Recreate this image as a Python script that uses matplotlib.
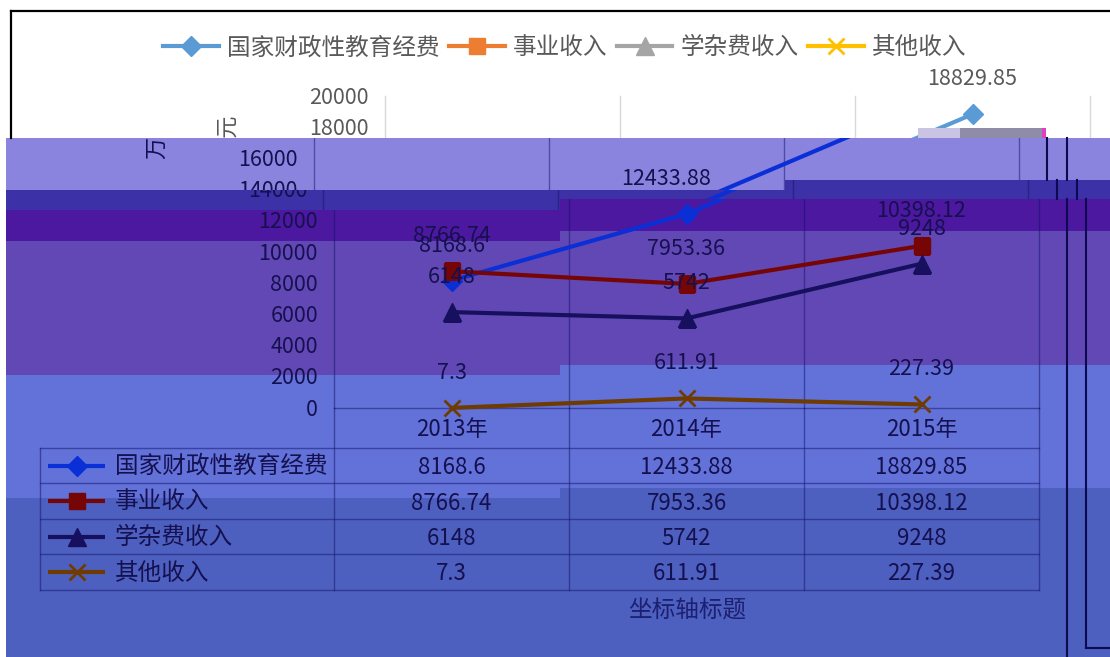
import numpy as np
import matplotlib
matplotlib.use('Agg')
import matplotlib.pyplot as plt
from matplotlib.patches import Polygon, Rectangle
from matplotlib.lines import Line2D
from matplotlib.text import Text
from matplotlib.transforms import ScaledTranslation, blended_transform_factory, Bbox, TransformedBbox

plt.rcParams['font.family'] = ['Noto Sans CJK SC', 'DejaVu Sans']

# ---------------- data ----------------
categories = ['2013年', '2014年', '2015年']
series_names = ['国家财政性教育经费', '事业收入', '学杂费收入', '其他收入']
fiscal_funds = [8168.6, 12433.88, 18829.85]
business_income = [8766.74, 7953.36, 10398.12]
tuition_income = [6148, 5742, 9248]
other_income = [7.3, 611.91, 227.39]
series_values = [fiscal_funds, business_income, tuition_income, other_income]
y_ticks = [0, 2000, 4000, 6000, 8000, 10000, 12000, 14000, 16000, 18000, 20000]
y_axis_title = '万元'
x_axis_title = '坐标轴标题'

# ---------------- styles ----------------
markers = ['D', 's', '^', 'x']
msizes = [10, 12, 12.5, 11]
orig_colors = ['#5b9bd5', '#ed7d31', '#a5a5a5', '#ffc000']
glitch_colors = ['#0a2fd6', '#760606', '#16105e', '#6e3c02']
schemes = {
    'orig': dict(colors=orig_colors, text='#595959', grid='#d9d9d9'),
    'glitch': dict(colors=glitch_colors, text='#15104f', grid=(0.08, 0.08, 0.42, 0.5)),
}

W, H, DPI = 1110, 657, 100
fig = plt.figure(figsize=(W / DPI, H / DPI), dpi=DPI)
fig.patch.set_facecolor('white')


def inch(p):
    return p / DPI


ax_bg = fig.add_axes([0, 0, 1, 1], zorder=-5)
ax_bg.set_xlim(0, W)
ax_bg.set_ylim(H, 0)
ax_bg.axis('off')

ax_fg = fig.add_axes([0, 0, 1, 1], zorder=10)
ax_fg.set_xlim(0, W)
ax_fg.set_ylim(H, 0)
ax_fg.axis('off')
ax_fg.patch.set_visible(False)

# band boundaries: (y on the left, y on the right, x of the step)
B_TOP = (0, 0, 560)
B_WHITE = (138, 138, 560)
B_12 = (190, 180, 785)
B_23 = (210, 199, 560)
B_34 = (241, 231, 560)
B_45 = (375, 365, 560)
B_56 = (498, 488, 560)
B_BOT = (H, H, 560)


def band_poly(top, bot, x0=0, x1=W):
    tl, tr, ts = top
    bl, br, bs = bot
    return [(x0, tl), (ts, tl), (ts, tr), (x1, tr), (x1, br), (bs, br), (bs, bl), (x0, bl)]


def y_at(bound, x):
    return bound[0] if x < bound[2] else bound[1]


def pixel_box(x0, y0, x1, y1):
    return TransformedBbox(Bbox.from_extents(x0 / W, 1 - y1 / H, x1 / W, 1 - y0 / H), fig.transFigure)


# colored glitch bands
band_bounds = [B_WHITE, B_12, B_23, B_34, B_45, B_56, B_BOT]
band_colors = ['#8a84de', '#3c31a6', '#4b189f', '#6248b4', '#6272d8', '#4d5fbf']
for i, c in enumerate(band_colors):
    ax_bg.add_patch(Polygon(band_poly(band_bounds[i], band_bounds[i + 1], x0=6),
                            closed=True, facecolor=c, edgecolor='none'))

# plot area in pixels
PX0, PX1, PY0, PY1 = 334, 1039, 96, 408

layers = [
    (B_TOP, B_WHITE, 51, 'orig'),
    (B_WHITE, B_12, -20, 'glitch'),
    (B_12, B_23, -11, 'glitch'),
    (B_23, B_BOT, 0, 'glitch'),
]
row_centers = [467, 503, 538.5, 574]

for top, bot, off, sname in layers:
    sc = schemes[sname]
    clip = Polygon(band_poly(top, bot), closed=True, transform=ax_bg.transData)
    ax = fig.add_axes([(PX0 + off) / W, 1 - PY1 / H, (PX1 - PX0) / W, (PY1 - PY0) / H], zorder=2)
    ax.set_xlim(-0.5, len(categories) - 0.5)
    ax.set_ylim(0, 20000)
    ax.axis('off')
    ax.patch.set_visible(False)
    arts = []
    for b in np.arange(-0.5, len(categories), 1.0):
        arts.append(ax.axvline(b, color=sc['grid'], lw=1))
    arts.append(ax.axhline(0, color=sc['grid'], lw=1))
    xs = np.arange(len(categories))
    for k, vals in enumerate(series_values):
        ln, = ax.plot(xs, vals, color=sc['colors'][k], lw=3, marker=markers[k], ms=msizes[k],
                      mew=2 if markers[k] == 'x' else 1, zorder=3)
        arts.append(ln)
        for j, v in enumerate(vals):
            arts.append(ax.text(j, v, f'{v}', ha='center', va='center', fontsize=15.5, color=sc['text'],
                                transform=ax.transData + ScaledTranslation(0, inch(35), fig.dpi_scale_trans)))
    ytr = blended_transform_factory(ax.transAxes, ax.transData)
    for t in y_ticks:
        arts.append(ax.text(0, t, str(t), ha='right', va='center', fontsize=15.5, color=sc['text'],
                            transform=ytr + ScaledTranslation(-inch(16), -inch(1.5), fig.dpi_scale_trans)))
    arts.append(ax.text(0, (PY1 - 137) / (PY1 - PY0), y_axis_title, rotation=90, ha='center', va='center',
                        fontsize=16, color=sc['text'], fontweight='light',
                        transform=ax.transAxes + ScaledTranslation(-inch(158), 0, fig.dpi_scale_trans)))
    for j, cat in enumerate(categories):
        arts.append(ax.text(j, 0, cat, ha='center', va='center', fontsize=16, color=sc['text'],
                            transform=ax.transData + ScaledTranslation(0, -inch(22), fig.dpi_scale_trans)))
    for r, vals in enumerate(series_values):
        for j, v in enumerate(vals):
            arts.append(ax.text(j, 0, f'{v}', ha='center', va='center', fontsize=16, color=sc['text'],
                                transform=ax.transData + ScaledTranslation(0, -inch(row_centers[r] - PY1),
                                                                           fig.dpi_scale_trans)))
    for a in arts:
        a.set_clip_on(True)
        if isinstance(a, Text):
            a.set_clip_path(None)
            xd = a.get_transform().transform(a.get_position())[0]
            a.set_clip_box(pixel_box(0, y_at(top, xd), W, y_at(bot, xd)))
        else:
            a.set_clip_box(None)
            a.set_clip_path(clip)

# ---------------- data table structure ----------------
tgrid = (0.08, 0.08, 0.42, 0.5)
for y in [448, 483, 519, 554, 590]:
    ax_fg.plot([40, PX1], [y, y], color=tgrid, lw=1)
ax_fg.plot([40, 40], [448, 590], color=tgrid, lw=1)
for x in np.linspace(PX0, PX1, len(categories) + 1):
    ax_fg.plot([x, x], [PY1, 590], color=tgrid, lw=1)

key_rows = [465.5, 501, 536.5, 572]
for r, name in enumerate(series_names):
    y = key_rows[r]
    ax_fg.plot([48, 105], [y, y], color=glitch_colors[r], lw=3, solid_capstyle='butt')
    ax_fg.plot([76.5], [y], color=glitch_colors[r], marker=markers[r], ms=msizes[r],
               mew=2 if markers[r] == 'x' else 1, ls='none')
    ax_fg.text(115, y + 1, name, ha='left', va='center', fontsize=17, color='#15104f')

ax_fg.text(687, 611, x_axis_title, ha='center', va='center', fontsize=17, color='#1c2070')

# ---------------- top legend (original colours) ----------------
handles = [Line2D([], [], color=orig_colors[k], lw=3, marker=markers[k], ms=msizes[k],
                  mew=2 if markers[k] == 'x' else 1) for k in range(4)]
fig.legend(handles, series_names, loc='center', bbox_to_anchor=(565 / W, 1 - 48 / H), ncol=4,
           frameon=False, fontsize=17, handlelength=2.35, handletextpad=0.35, columnspacing=0.4,
           labelcolor='#595959')

# ---------------- frame and glitch lines ----------------
ax_fg.plot([11, W], [11, 11], color='black', lw=1.6)
ax_fg.plot([11, 11], [11, 138], color='black', lw=1.6)
navy = '#0c0a50'
for x in [1047, 1067]:
    ax_fg.plot([x, x], [138, 180], color=navy, lw=1.5)
for x in [1057, 1077]:
    ax_fg.plot([x, x], [180, 199], color=navy, lw=1.5)
for x in [1067, 1086]:
    ax_fg.plot([x, x], [199, 648 if x == 1086 else H], color=navy, lw=1.5)
ax_fg.plot([1086, W], [648, 648], color=navy, lw=1.5)
# pixel noise strip
ax_fg.add_patch(Rectangle((918, 128), 42, 10, facecolor='#c9c3e4', edgecolor='none'))
ax_fg.add_patch(Rectangle((960, 128), 82, 10, facecolor='#8e8ca8', edgecolor='none'))
ax_fg.add_patch(Rectangle((1042, 128), 4, 10, facecolor='#e040c0', edgecolor='none'))

fig.savefig('out.png', dpi=DPI, facecolor='white')
